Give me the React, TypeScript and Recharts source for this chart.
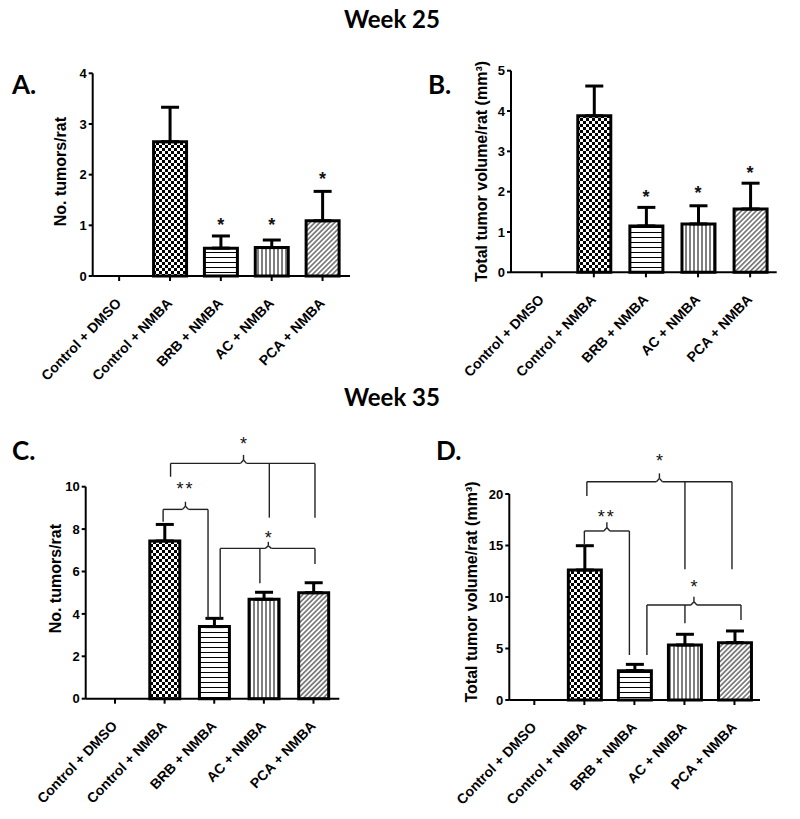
import React from "react";
import {
  BarChart,
  Bar,
  XAxis,
  YAxis,
  Cell,
  ErrorBar,
  ReferenceLine,
  ReferenceDot,
} from "recharts";

// treatment groups, same order in every panel
const groups = [
  "Control + DMSO",
  "Control + NMBA",
  "BRB + NMBA",
  "AC + NMBA",
  "PCA + NMBA",
];
const fills = ["none", "checker", "hlines", "vlines", "diag"];

// week 25
const tumorsWk25 = [0, 2.65, 0.55, 0.56, 1.09];
const tumorsWk25Sem = [0, 0.68, 0.24, 0.15, 0.58];
const volumeWk25 = [0, 3.88, 1.15, 1.2, 1.57];
const volumeWk25Sem = [0, 0.74, 0.46, 0.45, 0.64];
const starsWk25 = ["", "", "*", "*", "*"];
const tumorsWk25StarY = [0, 0, 1.085, 1.085, 1.99];
const volumeWk25StarY = [0, 0, 1.96, 2.06, 2.56];

// week 35
const tumorsWk35 = [0, 7.44, 3.4, 4.69, 5.0];
const tumorsWk35Sem = [0, 0.78, 0.39, 0.33, 0.47];
const volumeWk35 = [0, 12.62, 2.85, 5.34, 5.57];
const volumeWk35Sem = [0, 2.36, 0.61, 1.04, 1.13];

type Bracket = {
  y: number;
  tipX: number;
  tipY: number;
  legs: [number, number][]; // [x, bottom]
  label: string;
  labelY: number;
};

const tumorsWk35Brackets: Bracket[] = [
  { y: 11.1, tipX: 2.59, tipY: 11.5, legs: [[1.12, 10.47], [3.11, 8.54], [4.03, 8.54]], label: "*", labelY: 12.2 },
  { y: 8.93, tipX: 1.42, tipY: 9.29, legs: [[0.97, 8.35], [1.875, 3.8]], label: "**", labelY: 10.08 },
  { y: 7.09, tipX: 3.09, tipY: 7.4, legs: [[2.12, 3.77], [2.92, 5.44], [4.03, 6.35]], label: "*", labelY: 7.75 },
];

const volumeWk35Brackets: Bracket[] = [
  { y: 21.19, tipX: 2.5, tipY: 22.0, legs: [[1.05, 19.8], [3.01, 12.69], [3.95, 12.69]], label: "*", labelY: 23.6 },
  { y: 16.41, tipX: 1.45, tipY: 17.25, legs: [[1.0, 15.15], [1.9, 4.37]], label: "**", labelY: 18.16 },
  { y: 9.22, tipX: 3.19, tipY: 10.03, legs: [[2.25, 4.37], [3.01, 7.45], [4.13, 7.77]], label: "*", labelY: 11.36 },
];

const patternDefs = (id: string) => (
  <defs>
    <pattern id={`${id}-checker`} width={6} height={6} patternUnits="userSpaceOnUse">
      <rect width={6} height={6} fill="#fff" />
      <rect width={3} height={3} fill="#000" />
      <rect x={3} y={3} width={3} height={3} fill="#000" />
    </pattern>
    <pattern id={`${id}-hlines`} width={5} height={5} patternUnits="userSpaceOnUse">
      <rect width={5} height={5} fill="#fff" />
      <line x1={0} y1={2.5} x2={5} y2={2.5} stroke="#000" strokeWidth={1} />
    </pattern>
    <pattern id={`${id}-vlines`} width={4} height={4} patternUnits="userSpaceOnUse">
      <rect width={4} height={4} fill="#fff" />
      <line x1={2} y1={0} x2={2} y2={4} stroke="#000" strokeWidth={1} />
    </pattern>
    <pattern
      id={`${id}-diag`}
      width={3.5}
      height={3.5}
      patternUnits="userSpaceOnUse"
      patternTransform="rotate(45)"
    >
      <rect width={3.5} height={3.5} fill="#fff" />
      <line x1={1.75} y1={0} x2={1.75} y2={3.5} stroke="#000" strokeWidth={0.9} />
    </pattern>
  </defs>
);

const GroupTick = (props: any) => {
  const { x, y, payload } = props;
  return (
    <g transform={`translate(${x + 3},${y + 21})`}>
      <text
        textAnchor="end"
        transform="rotate(-46)"
        fontSize={14}
        fontWeight="bold"
        fontFamily="'Liberation Sans', Arial, sans-serif"
        fill="#000"
      >
        {groups[payload.value]}
      </text>
    </g>
  );
};

const textShape = (label: string, size: number, weight: string) => (p: any) =>
  (
    <text
      x={p.cx}
      y={p.cy}
      dy={size * 0.55}
      textAnchor="middle"
      fontSize={size}
      fontWeight={weight}
      fontFamily="'Liberation Sans', Arial, sans-serif"
      letterSpacing={label.length > 1 ? 2 : 0}
      fill="#111"
    >
      {label}
    </text>
  );

const lineStyle = { stroke: "#222", strokeWidth: 1.4 };

const bracketParts = (b: Bracket, key: string) => {
  const xs = b.legs.map((l) => l[0]);
  const left = Math.min(...xs);
  const right = Math.max(...xs);
  const knee = b.y + (b.tipY - b.y) * 0.4;
  const segs: [number, number, number, number][] = [
    [left, b.y, b.tipX - 0.06, b.y],
    [b.tipX - 0.06, b.y, b.tipX, knee],
    [b.tipX, knee, b.tipX, b.tipY],
    [b.tipX, knee, b.tipX + 0.06, b.y],
    [b.tipX + 0.06, b.y, right, b.y],
    ...b.legs.map((l) => [l[0], b.y, l[0], l[1]] as [number, number, number, number]),
  ];
  const items = segs.map((s, i) => (
    <ReferenceLine
      key={`${key}-s${i}`}
      segment={[
        { x: s[0], y: s[1] },
        { x: s[2], y: s[3] },
      ]}
      ifOverflow="visible"
      {...lineStyle}
    />
  ));
  items.push(
    <ReferenceDot
      key={`${key}-lbl`}
      x={b.tipX}
      y={b.labelY}
      r={1}
      ifOverflow="visible"
      shape={textShape(b.label, 18, "normal")}
    />
  );
  return items;
};

type PanelProps = {
  id: string;
  left: number;
  top: number;
  width: number;
  height: number;
  margin: { top: number; right: number; bottom: number; left: number };
  xDomain: [number, number];
  yDomain: [number, number];
  yTicks: number[];
  values: number[];
  sem: number[];
  barSize: number;
  yLabel: string;
  labelOffset: number;
  labelDy: number;
  stars?: string[];
  starY?: number[];
  brackets?: Bracket[];
};

function Panel(p: PanelProps) {
  const data = groups.map((g, i) => ({
    pos: i,
    name: g,
    value: p.values[i],
    err: [0, p.sem[i]],
  }));
  return (
    <div style={{ position: "absolute", left: p.left, top: p.top }}>
      <BarChart width={p.width} height={p.height} data={data} margin={p.margin}>
        {patternDefs(p.id)}
        <XAxis
          dataKey="pos"
          type="number"
          domain={p.xDomain}
          ticks={[0, 1, 2, 3, 4]}
          interval={0}
          allowDataOverflow
          height={100}
          tickSize={5}
          tickMargin={2}
          axisLine={{ stroke: "#000", strokeWidth: 2 }}
          tickLine={{ stroke: "#000", strokeWidth: 2 }}
          tick={<GroupTick />}
        />
        <YAxis
          type="number"
          domain={p.yDomain}
          ticks={p.yTicks}
          interval={0}
          width={40}
          tickSize={4}
          tickMargin={2}
          axisLine={{ stroke: "#000", strokeWidth: 2 }}
          tickLine={{ stroke: "#000", strokeWidth: 2 }}
          tick={{
            fill: "#000",
            fontSize: 13,
            fontWeight: "bold",
            fontFamily: "'Liberation Sans Narrow', 'Liberation Sans', Arial, sans-serif",
          }}
          label={{
            value: p.yLabel,
            angle: -90,
            position: "insideLeft",
            offset: p.labelOffset,
            dy: p.labelDy,
            style: {
              textAnchor: "middle",
              fill: "#000",
              fontSize: 16,
              fontWeight: "bold",
              fontFamily: "'Liberation Sans', Arial, sans-serif",
            },
          }}
        />
        <Bar
          dataKey="value"
          barSize={p.barSize}
          stroke="#000"
          strokeWidth={3}
          isAnimationActive={false}
        >
          {data.map((d, i) => (
            <Cell
              key={d.name}
              fill={fills[i] === "none" ? "none" : `url(#${p.id}-${fills[i]})`}
            />
          ))}
          <ErrorBar
            dataKey="err"
            direction="y"
            width={9}
            stroke="#000"
            strokeWidth={3}
            isAnimationActive={false}
          />
        </Bar>
        {p.stars &&
          p.starY &&
          p.stars.map((s, i) =>
            s ? (
              <ReferenceDot
                key={`star-${i}`}
                x={i}
                y={p.starY![i]}
                r={1}
                ifOverflow="visible"
                shape={textShape(s, 18, "bold")}
              />
            ) : null
          )}
        {p.brackets && p.brackets.flatMap((b, i) => bracketParts(b, `br${i}`))}
      </BarChart>
    </div>
  );
}

const heading: React.CSSProperties = {
  position: "absolute",
  fontFamily: "Lato, 'Open Sans', sans-serif",
  fontWeight: 700,
  lineHeight: 1,
  color: "#000",
  whiteSpace: "nowrap",
};

export default function App() {
  return (
    <div
      style={{
        position: "absolute",
        left: 0,
        top: 0,
        width: 800,
        height: 819,
        background: "#fff",
        fontFamily: "'Liberation Sans', Arial, sans-serif",
      }}
    >
      <div style={{ ...heading, fontSize: 24, left: 392, top: 7, transform: "translateX(-50%)" }}>
        Week 25
      </div>
      <div style={{ ...heading, fontSize: 24, left: 392, top: 385, transform: "translateX(-50%)" }}>
        Week 35
      </div>
      <div style={{ ...heading, fontSize: 26, left: 12, top: 71 }}>A.</div>
      <div style={{ ...heading, fontSize: 26, left: 428, top: 71 }}>B.</div>
      <div style={{ ...heading, fontSize: 26, left: 12, top: 437 }}>C.</div>
      <div style={{ ...heading, fontSize: 26, left: 436, top: 437 }}>D.</div>

      <Panel
        id="a"
        left={0}
        top={40}
        width={400}
        height={360}
        margin={{ top: 33.3, right: 50, bottom: 24, left: 52.7 }}
        xDomain={[-0.52, 4.54]}
        yDomain={[0, 4]}
        yTicks={[0, 1, 2, 3, 4]}
        values={tumorsWk25}
        sem={tumorsWk25Sem}
        barSize={33}
        yLabel="No. tumors/rat"
        labelOffset={7.3}
        labelDy={-3}
        stars={starsWk25}
        starY={tumorsWk25StarY}
      />
      <Panel
        id="b"
        left={400}
        top={40}
        width={400}
        height={360}
        margin={{ top: 30.7, right: 23.3, bottom: 27.7, left: 71 }}
        xDomain={[-0.59, 4.51]}
        yDomain={[0, 5]}
        yTicks={[0, 1, 2, 3, 4, 5]}
        values={volumeWk25}
        sem={volumeWk25Sem}
        barSize={33}
        yLabel="Total tumor volume/rat  (mm³)"
        labelOffset={10.7}
        labelDy={0}
        stars={starsWk25}
        starY={volumeWk25StarY}
      />
      <Panel
        id="c"
        left={0}
        top={400}
        width={400}
        height={419}
        margin={{ top: 86.7, right: 60.7, bottom: 20.3, left: 45.7 }}
        xDomain={[-0.59, 4.52]}
        yDomain={[0, 10]}
        yTicks={[0, 2, 4, 6, 8, 10]}
        values={tumorsWk35}
        sem={tumorsWk35Sem}
        barSize={30}
        yLabel="No. tumors/rat"
        labelOffset={9.3}
        labelDy={-14}
        brackets={tumorsWk35Brackets}
      />
      <Panel
        id="d"
        left={400}
        top={400}
        width={400}
        height={419}
        margin={{ top: 94, right: 40, bottom: 19, left: 69.3 }}
        xDomain={[-0.5, 4.51]}
        yDomain={[0, 20]}
        yTicks={[0, 5, 10, 15, 20]}
        values={volumeWk35}
        sem={volumeWk35Sem}
        barSize={33}
        yLabel="Total tumor volume/rat  (mm³)"
        labelOffset={2.4}
        labelDy={-5}
        brackets={volumeWk35Brackets}
      />
    </div>
  );
}
